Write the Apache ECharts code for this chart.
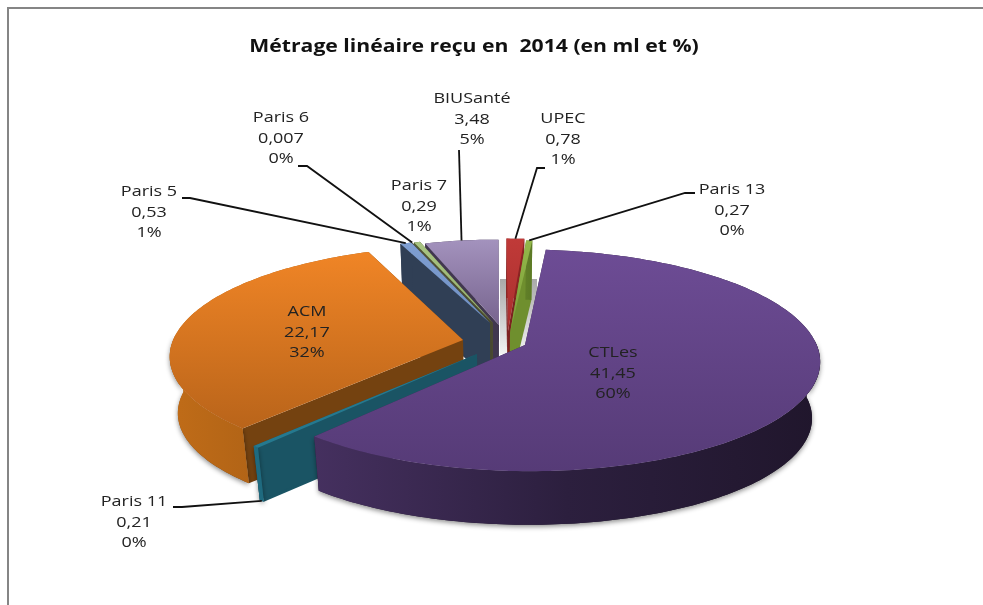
<!DOCTYPE html>
<html>
<head>
<meta charset="utf-8">
<style>
html, body { margin: 0; padding: 0; background: #fff; }
#pie { width: 983px; height: 605px; }
</style>
<script src="https://cdn.jsdelivr.net/npm/echarts@6/dist/echarts.min.js"></script>
</head>
<body>
<div id="pie"></div>
<script>
// values, clockwise from the top of the pie
var names = ['UPEC', 'Paris 13', 'CTLes', 'Paris 11', 'ACM', 'Paris 5', 'Paris 6', 'Paris 7', 'BIUSanté'];
var values = [0.78, 0.27, 41.45, 0.21, 22.17, 0.53, 0.007, 0.29, 3.48];
var valueLabels = ['0,78', '0,27', '41,45', '0,21', '22,17', '0,53', '0,007', '0,29', '3,48'];
var percentLabels = ['1%', '0%', '60%', '0%', '32%', '1%', '0%', '1%', '5%'];

// where each exploded slice sits on screen, and its paint rank (back to front)
var apex = [[508, 331], [510, 333], [525, 345], [477, 354], [463, 340], [490, 323], [491, 323], [493, 323], [499, 325]];
var radius = [1, 1, 1, 1, 1, 0.93, 0.93, 0.93, 0.93];
var paintOrder = [4, 5, 8, 7, 6, 3, 2, 1, 0];

var faceColors = [
    ['#c03a38', '#a92f2e'], ['#93b84a', '#7a9c38'], ['#6d4c95', '#563b77'],
    ['#25798f', '#25798f'], ['#f08526', '#b9641a'], ['#7f9fd2', '#6f8fc2'],
    ['#c7d5a0', '#b0c488'], ['#a9c582', '#93ad6c'], ['#a392bd', '#77648e']
];
var wallColors = [
    ['#8a2422', '#8a2422'], ['#6b8a2c', '#5c7a26'], ['#45305f', '#2c1f3e', '#20162c'],
    ['#1f6b80', '#1a5262'], ['#c06c18', '#8d4f12'], ['#303f55', '#303f55'],
    ['#4a5a30', '#4a5a30'], ['#4a5a30', '#4a5a30'], ['#41374f', '#41374f']
];
var cutColors = ['#7d2120', '#6f8f2e', '#3a2850', '#1a5464', '#744210', '#303f55', '#4a4a30', '#4a4a30', '#41374f'];

// label centres and leader bends
var labelAt = [[563, 119], [732, 190], [613, 353], [134, 502], [307, 312], [149, 192], [281, 118], [419, 186], [472, 99]];
var leaders = [
    [[545, 168], [537, 168]],
    [[695, 193], [685, 193]],
    null,
    [[173, 507], [182, 507]],
    null,
    [[182, 198], [190, 198]],
    [[298, 166], [307, 166]],
    null,
    [[459, 150]]
];

var rowHeight = 20.5;
var textStretch = 1.2;
var total = values.reduce(function (a, b) { return a + b; }, 0);

// perspective of the pie plane
var view = { cx: 495, cy: 335, a: 288, b: 106, k: 0.1364, depth: 57, shrink: 0.975 };

function project(u, v) {
    var w = 1 - view.k * v;
    return [view.cx + view.a * u / w, view.cy + view.b * v / w];
}

function drop(p) {
    return [
        view.cx + (p[0] - view.cx) * view.shrink,
        view.cy + (p[1] - view.cy) * view.shrink + view.depth
    ];
}

function sliceAngles(i) {
    var before = 0;
    for (var n = 0; n < i; n++) {
        before += values[n];
    }
    return [before / total * Math.PI * 2, (before + values[i]) / total * Math.PI * 2];
}

function rimPoint(i, theta) {
    var sy = apex[i][1] - view.cy;
    var v0 = sy / (view.b + view.k * sy);
    var u0 = (apex[i][0] - view.cx) * (1 - view.k * v0) / view.a;
    return project(u0 + radius[i] * Math.sin(theta), v0 - radius[i] * Math.cos(theta));
}

function gradient(x0, y0, x1, y1, c) {
    return new echarts.graphic.LinearGradient(x0, y0, x1, y1, c.map(function (color, n) {
        return { offset: n / (c.length - 1), color: color };
    }), true);
}

function renderSlice(params, api) {
    var i = api.value(0);
    var ang = sliceAngles(i);
    var steps = Math.max(2, Math.ceil((ang[1] - ang[0]) / 0.02));
    var top = [];
    var front = [];
    for (var s = 0; s <= steps; s++) {
        var theta = ang[0] + (ang[1] - ang[0]) * s / steps;
        var p = rimPoint(i, theta);
        top.push(p);
        // only the near half of the rim throws a shadow
        if (Math.cos(theta) < 0.05) {
            front.push(p);
        }
    }
    var bottom = top.map(drop);
    var tip = apex[i];
    var tipLow = drop(tip);
    var xs = top.map(function (p) { return p[0]; }).concat(tip[0]);
    var ys = top.map(function (p) { return p[1]; }).concat(tip[1]);
    var minX = Math.min.apply(null, xs), maxX = Math.max.apply(null, xs);
    var minY = Math.min.apply(null, ys), maxY = Math.max.apply(null, ys);
    var z = paintOrder[i] * 10;
    var wallFill = gradient(minX, 0, maxX, 0, wallColors[i]);

    function cut(edge, low) {
        return {
            type: 'polygon',
            z2: z,
            shape: { points: [tip, edge, low, tipLow] },
            style: { fill: cutColors[i] }
        };
    }

    var children = [
        cut(top[0], bottom[0]),
        cut(top[steps], bottom[steps]),
        {
            type: 'polygon',
            z2: z + 1,
            shape: { points: top.concat(bottom.slice().reverse()) },
            style: { fill: wallFill }
        },
        {
            type: 'polygon',
            z2: z + 3,
            shape: { points: [tip].concat(top) },
            style: { fill: gradient(0, minY, 0, maxY, faceColors[i]) }
        }
    ];
    if (front.length > 1) {
        children.push({
            type: 'polygon',
            z2: z + 2,
            shape: { points: front.concat(front.map(drop).reverse()) },
            style: {
                fill: wallFill,
                shadowColor: 'rgba(0,0,0,0.45)',
                shadowBlur: 5,
                shadowOffsetY: 2
            }
        });
    }
    return { type: 'group', children: children };
}

function renderLabel(params, api) {
    var i = api.value(0);
    var at = labelAt[i];
    var rows = [names[i], valueLabels[i], percentLabels[i]];
    var children = rows.map(function (text, r) {
        return {
            type: 'text',
            x: at[0],
            y: at[1] + r * rowHeight,
            scaleX: textStretch,
            style: {
                text: text,
                align: 'center',
                verticalAlign: 'middle',
                fill: '#222222',
                font: '15px "Open Sans"'
            }
        };
    });
    if (leaders[i]) {
        var ang = sliceAngles(i);
        var end = rimPoint(i, (ang[0] + ang[1]) / 2);
        if (names[i] === 'Paris 11') {
            end = drop(end);
        }
        children.push({
            type: 'polyline',
            shape: { points: leaders[i].concat([end]) },
            style: { stroke: '#111111', lineWidth: 1.8, fill: null }
        });
    }
    return { type: 'group', children: children };
}

var indexes = names.map(function (n, i) { return [i]; });

var myChart = echarts.init(document.getElementById('pie'));
myChart.setOption({
    animation: false,
    backgroundColor: '#ffffff',
    graphic: [
        {
            type: 'text',
            silent: true,
            x: 474,
            y: 47,
            scaleX: 1.21,
            style: {
                text: 'Métrage linéaire reçu en  2014 (en ml et %)',
                align: 'center',
                verticalAlign: 'middle',
                fill: '#111111',
                font: 'bold 17.5px "Open Sans"'
            }
        },
        {
            type: 'polyline',
            silent: true,
            shape: { points: [[8, 605], [8, 8], [983, 8]] },
            style: { stroke: '#858585', lineWidth: 2, fill: null }
        },
        {
            type: 'rect',
            silent: true,
            z: 0,
            shape: { x: 500, y: 279, width: 37, height: 75 },
            style: { fill: gradient(0, 279, 0, 354, ['#a9a9a9', '#f2f2f2']) }
        }
    ],
    series: [
        {
            type: 'custom',
            coordinateSystem: 'none',
            silent: true,
            z: 2,
            data: indexes,
            renderItem: renderSlice
        },
        {
            type: 'custom',
            coordinateSystem: 'none',
            silent: true,
            z: 3,
            data: indexes,
            renderItem: renderLabel
        }
    ]
});
</script>
</body>
</html>
